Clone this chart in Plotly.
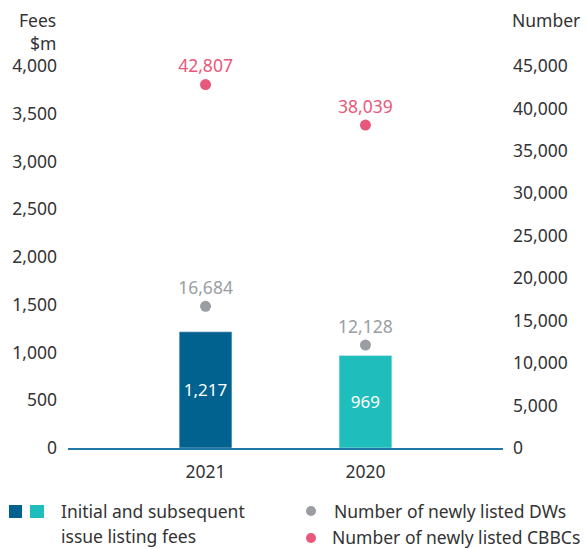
import plotly.graph_objects as go

years = ["2021", "2020"]
fees = [1217, 969]
dws = [16684, 12128]
cbbcs = [42807, 38039]
bar_colors = ["#02628f", "#20bdbd"]
grey = "#9a9ea3"
pink = "#e8587a"
txt = "#333333"
FONT = "Noto Sans"
FS = 17.5

W, H = 587, 549
L, R, T, B = 68, 84, 66, 101
PW, PH = W - L - R, H - T - B


def px_x(x):
    return (x - L) / PW


def px_y(y):
    return (H - B - y) / PH


fig = go.Figure()
fig.add_trace(go.Bar(
    x=years, y=fees, marker_color=bar_colors, width=0.33,
    text=[f"{v:,}" for v in fees], textposition="inside",
    insidetextanchor="middle", textfont=dict(color="white", size=17, family=FONT),
    showlegend=False, yaxis="y"))
fig.add_trace(go.Scatter(
    x=years, y=dws, mode="markers+text", marker=dict(color=grey, size=11),
    text=[f"{v:,}" for v in dws], textposition="top center", cliponaxis=False,
    textfont=dict(color=grey, size=FS, family=FONT), showlegend=False, yaxis="y2"))
fig.add_trace(go.Scatter(
    x=years, y=cbbcs, mode="markers+text", marker=dict(color=pink, size=11),
    text=[f"{v:,}" for v in cbbcs], textposition="top center", cliponaxis=False,
    textfont=dict(color=pink, size=FS, family=FONT), showlegend=False, yaxis="y2"))

ann = [
    dict(text="Fees", x=px_x(58), y=px_y(20), xanchor="right", yanchor="middle"),
    dict(text="$m", x=px_x(58), y=px_y(43), xanchor="right", yanchor="middle"),
    dict(text="Number", x=px_x(510), y=px_y(20), xanchor="left", yanchor="middle"),
    dict(text="Initial and subsequent", x=px_x(59), y=px_y(511.5), xanchor="left", yanchor="middle"),
    dict(text="issue listing fees", x=px_x(59), y=px_y(535.5), xanchor="left", yanchor="middle"),
    dict(text="Number of newly listed DWs", x=px_x(332), y=px_y(511.5), xanchor="left", yanchor="middle"),
    dict(text="Number of newly listed CBBCs", x=px_x(330), y=px_y(536.5), xanchor="left", yanchor="middle"),
]
for a in ann:
    a.update(xref="paper", yref="paper", showarrow=False,
             font=dict(size=FS, color=txt, family=FONT))

shapes = [
    dict(type="rect", x0=px_x(9), x1=px_x(22), y0=px_y(518), y1=px_y(505), fillcolor=bar_colors[0], line_width=0),
    dict(type="rect", x0=px_x(30), x1=px_x(44), y0=px_y(518), y1=px_y(505), fillcolor=bar_colors[1], line_width=0),
    dict(type="circle", x0=px_x(306), x1=px_x(316), y0=px_y(516), y1=px_y(506), fillcolor=grey, line_width=0),
    dict(type="circle", x0=px_x(306), x1=px_x(316), y0=px_y(543), y1=px_y(533), fillcolor=pink, line_width=0),
]
for s in shapes:
    s.update(xref="paper", yref="paper")

fig.update_layout(
    width=W, height=H, margin=dict(l=L, r=R, t=T, b=B, pad=0),
    paper_bgcolor="white", plot_bgcolor="white",
    font=dict(family=FONT, size=FS, color=txt),
    showlegend=False,
    xaxis=dict(type="category", range=[-0.86, 1.86], showgrid=False,
               showline=True, linecolor="#1f78a8", linewidth=1.5,
               tickfont=dict(size=FS, color=txt), ticks="", ticklabelstandoff=7),
    yaxis=dict(range=[0, 4000], tickvals=list(range(0, 4001, 500)),
               tickformat=",", showgrid=False, zeroline=False, showline=False,
               ticks="", ticklabelstandoff=10, tickfont=dict(size=FS, color=txt)),
    yaxis2=dict(range=[0, 45000], tickvals=list(range(0, 45001, 5000)),
                tickformat=",", overlaying="y", side="right", showgrid=False,
                zeroline=False, showline=False, ticks="", ticklabelstandoff=9,
                tickfont=dict(size=FS, color=txt)),
    annotations=ann, shapes=shapes,
)

fig.write_html("out.html", config={"displayModeBar": False},
               post_script="document.body.style.margin='0';")
